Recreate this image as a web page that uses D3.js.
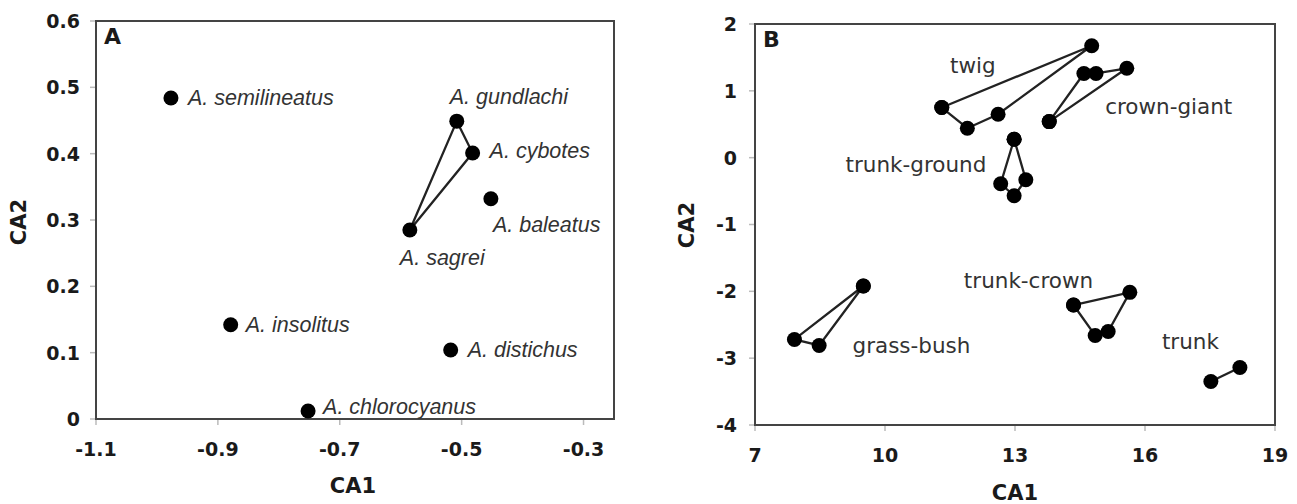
<!DOCTYPE html>
<html>
<head>
<meta charset="utf-8">
<script src="https://cdn.jsdelivr.net/npm/d3@7"></script>
<style>
  body { margin: 0; background: #fff; }
  .tick-lab { font-family: "DejaVu Sans", Verdana, sans-serif; font-weight: bold; font-size: 19px; fill: #1a1a1a; }
  .axis-title { font-family: "DejaVu Sans", Verdana, sans-serif; font-weight: bold; font-size: 21px; fill: #1a1a1a; }
  .sp-lab { font-family: "Liberation Sans", Arial, sans-serif; font-style: italic; font-size: 21.5px; fill: #333; }
  .hab-lab { font-family: "DejaVu Sans", Verdana, sans-serif; font-size: 21.5px; fill: #333; }
</style>
</head>
<body>
<svg id="chart" width="1297" height="504"></svg>
<script>
// ---- panel A data: species scores ----
const speciesNames = ["A. semilineatus", "A. gundlachi", "A. cybotes", "A. baleatus", "A. sagrei",
                      "A. insolitus", "A. distichus", "A. chlorocyanus"];
const speciesCA1 = [-0.977, -0.508, -0.482, -0.452, -0.585, -0.879, -0.518, -0.752];
const speciesCA2 = [0.484, 0.449, 0.401, 0.332, 0.285, 0.142, 0.104, 0.012];
// triangle joining the trunk-ground species
const hullA = ["A. sagrei", "A. gundlachi", "A. cybotes", "A. sagrei"];
const ticksAx = [-1.1, -0.9, -0.7, -0.5, -0.3];
const ticksAy = [0, 0.1, 0.2, 0.3, 0.4, 0.5, 0.6];

// ---- panel B data: ecomorph groups (polygon order) ----
const groupNames = ["twig", "crown-giant", "trunk-ground", "grass-bush", "trunk-crown", "trunk"];
const groupCA1 = [
  [11.31, 14.77, 12.61, 11.90, 11.31],
  [13.79, 14.59, 14.87, 15.58, 13.79],
  [12.98, 12.67, 12.98, 13.25, 12.98],
  [9.50, 7.91, 8.48, 9.50],
  [14.35, 15.65, 15.15, 14.85, 14.35],
  [17.52, 18.19]
];
const groupCA2 = [
  [0.75, 1.675, 0.65, 0.44, 0.75],
  [0.54, 1.26, 1.26, 1.337, 0.54],
  [0.275, -0.39, -0.57, -0.33, 0.275],
  [-1.92, -2.72, -2.81, -1.92],
  [-2.205, -2.015, -2.60, -2.66, -2.205],
  [-3.35, -3.14]
];
const ticksBx = [7, 10, 13, 16, 19];
const ticksBy = [-4, -3, -2, -1, 0, 1, 2];

const svg = d3.select("#chart");
// plain hyphen instead of the unicode minus
const hy = s => String(s).replace("\u2212", "-");

function drawFrame(g, x, y, xt, yt, letter, xfmt, yfmt, ylabGap) {
  let [x0, x1] = x.range(), [y0, y1] = y.range();
  // tick marks
  g.selectAll(".ytk").data(yt).join("line")
    .attr("x1", x0 - 6).attr("x2", x0).attr("y1", d => y(d)).attr("y2", d => y(d))
    .attr("stroke", "#bbb").attr("stroke-width", 1.5);
  g.selectAll(".xtk").data(xt).join("line")
    .attr("y1", y0).attr("y2", y0 + 6).attr("x1", d => x(d)).attr("x2", d => x(d))
    .attr("stroke", "#bbb").attr("stroke-width", 1.5);
  g.append("rect").attr("x", x0).attr("y", y1).attr("width", x1 - x0).attr("height", y0 - y1)
    .attr("fill", "none").attr("stroke", "#444").attr("stroke-width", 2);
  g.selectAll(".ylab").data(yt).join("text").attr("class", "tick-lab")
    .attr("x", x0 - ylabGap).attr("y", d => y(d)).attr("dy", "0.36em")
    .attr("text-anchor", "end").text(d => hy(yfmt(d)));
  g.selectAll(".xlab").data(xt).join("text").attr("class", "tick-lab")
    .attr("x", d => x(d)).attr("y", y0 + 37)
    .attr("text-anchor", "middle").text(d => hy(xfmt(d)));
  g.append("text").attr("class", "axis-title").attr("x", x0 + 8).attr("y", y1 + 23)
    .style("font-size", "22px").text(letter);
}

// ---------- Panel A ----------
const xA = d3.scaleLinear().domain([-1.1, -0.25]).range([96, 614]);
const yA = d3.scaleLinear().domain([0, 0.6]).range([419, 21]);
const gA = svg.append("g");
drawFrame(gA, xA, yA, ticksAx, ticksAy, "A", d => d3.format(".1f")(d), d => d === 0 ? "0" : d3.format(".1f")(d), 16);

const spIndex = name => speciesNames.indexOf(name);
gA.append("path")
  .attr("d", d3.line().x(n => xA(speciesCA1[spIndex(n)])).y(n => yA(speciesCA2[spIndex(n)]))(hullA))
  .attr("fill", "none").attr("stroke", "#222").attr("stroke-width", 2.3);

gA.selectAll(".pt").data(speciesNames).join("circle")
  .attr("cx", (d, i) => xA(speciesCA1[i])).attr("cy", (d, i) => yA(speciesCA2[i]))
  .attr("r", 7.5).attr("fill", "#000");

// label offsets relative to each point (dx, dy)
const spLabOff = [[17, 7], [-7, -17], [17, 5], [2, 33], [-10, 35], [15, 7], [17, 7], [15, 3]];
gA.selectAll(".sl").data(speciesNames).join("text").attr("class", "sp-lab")
  .attr("x", (d, i) => xA(speciesCA1[i]) + spLabOff[i][0])
  .attr("y", (d, i) => yA(speciesCA2[i]) + spLabOff[i][1])
  .text(d => d);

gA.append("text").attr("class", "axis-title").attr("x", 353).attr("y", 493)
  .attr("text-anchor", "middle").text("CA1");
gA.append("text").attr("class", "axis-title")
  .attr("transform", "translate(26,222) rotate(-90)").attr("text-anchor", "middle").text("CA2");

// ---------- Panel B ----------
const xB = d3.scaleLinear().domain([7, 19]).range([755, 1275]);
const yB = d3.scaleLinear().domain([-4, 2]).range([425, 24]);
const gB = svg.append("g");
drawFrame(gB, xB, yB, ticksBx, ticksBy, "B", d => d, d => d, 18);

groupNames.forEach((name, gi) => {
  let pts = groupCA1[gi].map((v, k) => [v, groupCA2[gi][k]]);
  gB.append("path")
    .attr("d", d3.line().x(p => xB(p[0])).y(p => yB(p[1]))(pts))
    .attr("fill", "none").attr("stroke", "#222").attr("stroke-width", 2.3);
  gB.selectAll(".p" + gi).data(pts).join("circle")
    .attr("cx", p => xB(p[0])).attr("cy", p => yB(p[1]))
    .attr("r", 7.5).attr("fill", "#000");
});

// group label anchor positions in data units
const groupLabCA1 = [11.5, 15.08, 9.09, 9.25, 11.82, 16.39];
const groupLabCA2 = [1.36, 0.743, -0.125, -2.83, -1.86, -2.77];
gB.selectAll(".gl").data(groupNames).join("text").attr("class", "hab-lab")
  .attr("x", (d, i) => xB(groupLabCA1[i])).attr("y", (d, i) => yB(groupLabCA2[i]))
  .attr("dy", "0.3em").text(d => d);

gB.append("text").attr("class", "axis-title").attr("x", 1015).attr("y", 500)
  .attr("text-anchor", "middle").text("CA1");
gB.append("text").attr("class", "axis-title")
  .attr("transform", "translate(694,225) rotate(-90)").attr("text-anchor", "middle").text("CA2");
</script>
</body>
</html>
